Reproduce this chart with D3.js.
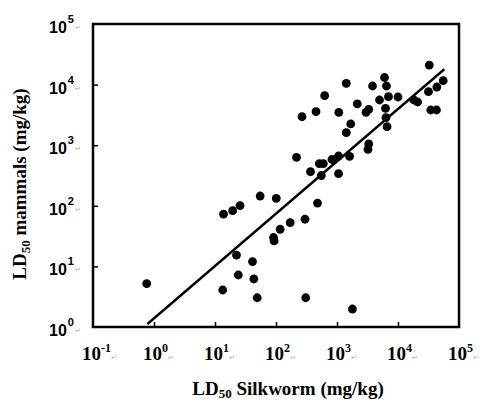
<!DOCTYPE html>
<html>
<head>
<meta charset="utf-8">
<script src="https://cdn.jsdelivr.net/npm/d3@7"></script>
<style>
	body { margin: 0; background: #fff; }
	svg { display: block; }
</style>
</head>
<body>
<svg id="chart" width="484" height="403"></svg>
<script>
// LD50 values (mg/kg), silkworm on x, mammals on y
const silkworm = [32600, 1420, 3820, 6010, 6470, 55100, 43300, 31600, 628, 4980,
	6980, 10000, 18200, 21000, 2150, 453, 1070, 2990, 3310, 6240,
	34400, 42700, 267, 6350, 1680, 1420, 6610, 3310, 3220, 217,
	1060, 828, 1610, 513, 596, 368, 553, 1060, 55, 101,
	479, 299, 171, 117, 91, 93, 13.8, 19.5, 25.7, 0.76,
	13.4, 22.5, 24.1, 41.2, 43.3, 49.2, 307, 1790];
const mammals = [21000, 10500, 9480, 13100, 9480, 11600, 9120, 7640, 6560, 5570,
	6310, 6240, 5570, 5160, 4790, 3570, 3490, 3490, 3910, 4060,
	3810, 3810, 2950, 2860, 2240, 1610, 2020, 1050, 856, 631,
	663, 581, 656, 495, 495, 365, 316, 339, 145, 133,
	111, 60, 52.6, 41, 30, 26.3, 73, 83, 101, 5.2,
	4.08, 15.4, 7.21, 12.0, 6.2, 3.04, 3.04, 1.98];

// regression line end points
const fitX = [0.78, 57400];
const fitY = [1.12, 17900];

// tick labels (exponents of 10)
const xExp = [-1, 0, 1, 2, 3, 4, 5];
const yExp = [0, 1, 2, 3, 4, 5];

const svg = d3.select("#chart");
const x = d3.scaleLog().domain([0.1, 1e5]).range([93, 459]);
const y = d3.scaleLog().domain([1, 1e5]).range([327, 24]);

const serif = "'Liberation Serif', 'Times New Roman', serif";
const sans = "'Liberation Sans', Arial, sans-serif";

// inner ticks
svg.append("g")
	.attr("transform", `translate(0,${y.range()[0]})`)
	.call(d3.axisBottom(x).tickValues([1, 10, 100, 1e3, 1e4]).tickSizeInner(-5).tickSizeOuter(0).tickFormat(""))
	.call(g => g.select(".domain").remove())
	.call(g => g.selectAll("line").attr("stroke", "#000").attr("stroke-width", 1.5));

svg.append("g")
	.attr("transform", `translate(${x.range()[0]},0)`)
	.call(d3.axisLeft(y).tickValues([10, 100, 1e3, 1e4]).tickSizeInner(-5).tickSizeOuter(0).tickFormat(""))
	.call(g => g.select(".domain").remove())
	.call(g => g.selectAll("line").attr("stroke", "#000").attr("stroke-width", 1.5));

// regression line
svg.append("line")
	.attr("x1", x(fitX[0])).attr("y1", y(fitY[0]))
	.attr("x2", x(fitX[1])).attr("y2", y(fitY[1]))
	.attr("stroke", "#000")
	.attr("stroke-width", 2.4);

// points
svg.append("g")
	.selectAll("circle")
	.data(silkworm.map((d, i) => [d, mammals[i]]))
	.join("circle")
	.attr("cx", d => x(d[0]))
	.attr("cy", d => y(d[1]))
	.attr("r", 4.4)
	.attr("fill", "#000");

// frame
svg.append("rect")
	.attr("x", x.range()[0]).attr("y", y.range()[1])
	.attr("width", x.range()[1] - x.range()[0])
	.attr("height", y.range()[0] - y.range()[1])
	.attr("fill", "none")
	.attr("stroke", "#000")
	.attr("stroke-width", 2.5);

// x tick labels
const xl = svg.append("g").selectAll("text")
	.data(xExp)
	.join("text")
	.attr("x", d => x(Math.pow(10, d)) - 11)
	.attr("y", 359.5)
	.attr("font-family", serif)
	.attr("font-weight", "bold")
	.attr("font-size", 19);
xl.append("tspan").text("10");
xl.append("tspan").attr("font-size", 12).attr("dy", -7.5).text(d => d);
xl.append("tspan").attr("font-size", 7).attr("dy", 7.5).attr("fill", "#aaa").attr("font-weight", "normal").text("\u21b5");

// y tick labels
const yl = svg.append("g").selectAll("text")
	.data(yExp)
	.join("text")
	.attr("x", 49)
	.attr("y", d => y(Math.pow(10, d)) + 9)
	.attr("font-family", sans)
	.attr("font-weight", "bold")
	.attr("font-size", 16);
yl.append("tspan").text("10");
yl.append("tspan").attr("font-size", 11).attr("dy", -10).attr("dx", 1).text(d => d);
yl.append("tspan").attr("font-size", 7).attr("dy", 7).attr("dx", 1).attr("fill", "#aaa").attr("font-weight", "normal").text("\u21b5");

// axis titles
const xt = svg.append("text")
	.attr("x", 288)
	.attr("y", 395)
	.attr("text-anchor", "middle")
	.attr("font-family", serif)
	.attr("font-weight", "bold")
	.attr("font-size", 19);
xt.append("tspan").text("LD");
xt.append("tspan").attr("font-size", 13).attr("dy", 3).text("50");
xt.append("tspan").attr("dy", -3).text(" Silkworm (mg/kg)");

const yt = svg.append("text")
	.attr("transform", "translate(26,184) rotate(-90)")
	.attr("text-anchor", "middle")
	.attr("font-family", serif)
	.attr("font-weight", "bold")
	.attr("font-size", 19);
yt.append("tspan").text("LD");
yt.append("tspan").attr("font-size", 13).attr("dy", 4).text("50");
yt.append("tspan").attr("dy", -4).text(" mammals (mg/kg)");
</script>
</body>
</html>
